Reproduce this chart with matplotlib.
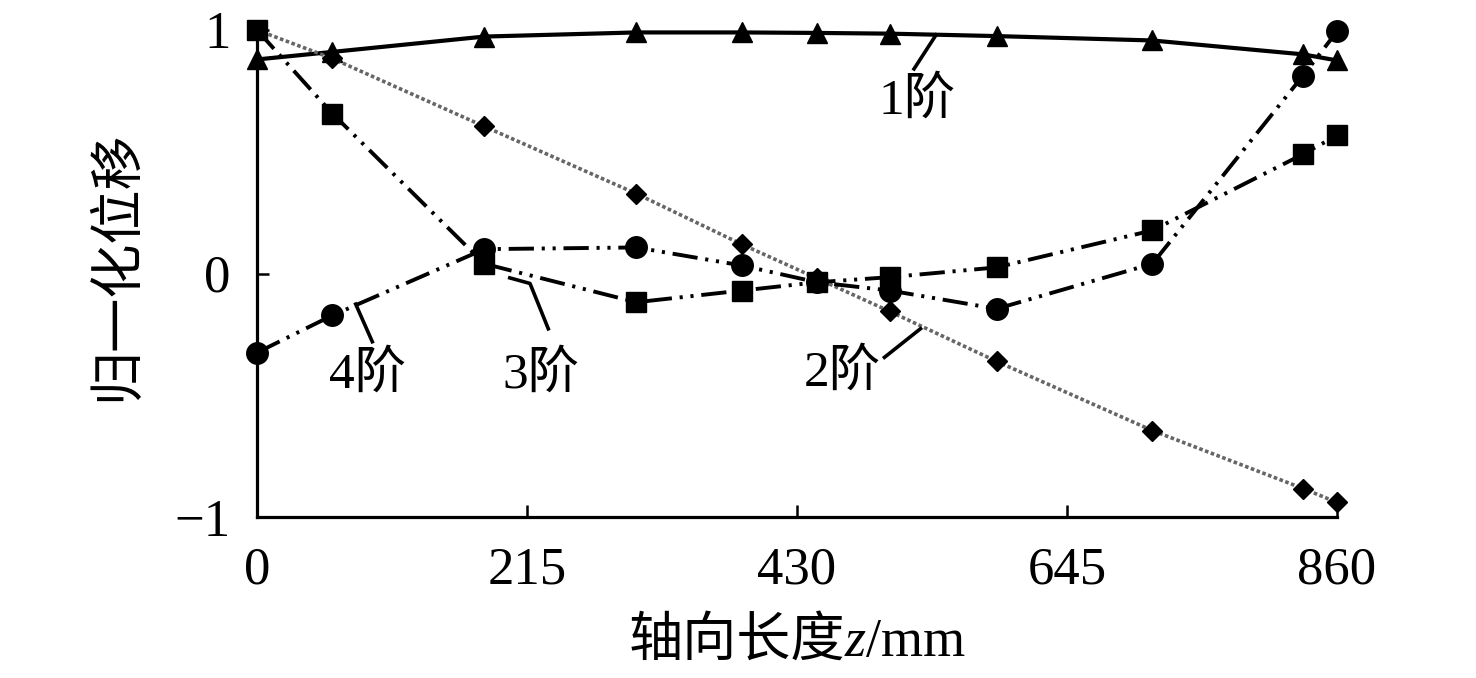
import matplotlib
matplotlib.use("Agg")
import matplotlib.pyplot as plt
from matplotlib.offsetbox import TextArea, HPacker, AnnotationBbox

plt.rcParams['font.family'] = ['Liberation Serif', 'Noto Sans CJK SC']
plt.rcParams['axes.unicode_minus'] = True

# ---- data ----
z = [0, 60, 181, 302, 386, 446, 504, 589, 713, 833, 860]
mode1 = [0.879, 0.91, 0.973, 0.99, 0.99, 0.988, 0.985, 0.975, 0.957, 0.90, 0.875]
mode2 = [1.0, 0.883, 0.604, 0.328, 0.12, -0.02, -0.156, -0.361, -0.645, -0.883, -0.94]
mode3 = [1.0, 0.657, 0.04, -0.118, -0.07, -0.036, -0.015, 0.025, 0.177, 0.49, 0.567]
mode4 = [-0.325, -0.172, 0.10, 0.107, 0.033, -0.036, -0.07, -0.145, 0.04, 0.813, 0.994]
mode_labels = ['1阶', '2阶', '3阶', '4阶']
xticks = [0, 215, 430, 645, 860]
yticks = [-1, 0, 1]
ytick_labels = ['\u22121', '0', '1']

fig = plt.figure(figsize=(14.76, 6.78), dpi=100)
ax = fig.add_axes([257/1476, 1-517/678, 1080/1476, 487/678])

dashdot2 = (0, (6.5, 2.0, 0.8, 2.0, 0.8, 2.0))
ax.plot(z, mode1, color='black', lw=3.0, marker='^', ms=14.5, clip_on=False, zorder=3)
ax.plot(z, mode2, color='0.4', lw=2.6, ls=(0, (1.0, 0.7)), marker='D', ms=10.5,
        mfc='black', mec='black', clip_on=False, zorder=3)
ax.plot(z, mode3, color='black', lw=2.8, ls=dashdot2, marker='s', ms=15,
        clip_on=False, zorder=3)
ax.plot(z, mode4, color='black', lw=2.8, ls=dashdot2, marker='o', ms=15.5,
        clip_on=False, zorder=3)

ax.set_xlim(0, 860)
ax.set_ylim(-1, 1)
ax.set_xticks(xticks)
ax.set_xticklabels([str(t) for t in xticks])
ax.set_yticks(yticks)
ax.set_yticklabels(ytick_labels)
for s in ['top', 'right']:
    ax.spines[s].set_visible(False)
for s in ['left', 'bottom']:
    ax.spines[s].set_linewidth(2.3)
ax.tick_params(axis='both', direction='in', length=8.6, width=1.8, labelsize=38)
ax.tick_params(axis='x', pad=21)
ax.tick_params(axis='y', pad=19)

# leader lines and labels
lab_fs = 37
leaders = [
    ([541.5, 522.4], [0.986, 0.834]),
    ([529.5, 498.5], [-0.222, -0.349]),
    ([199.9, 217.4, 232.5], [-0.016, -0.041, -0.234]),
    ([78.0, 92.4], [-0.119, -0.287]),
]
label_pos = [(526, 0.71), (466, -0.407), (226, -0.415), (88, -0.415)]
for (lx, ly), (tx, ty), lab in zip(leaders, label_pos, mode_labels):
    ax.plot(lx, ly, color='black', lw=2.6, solid_capstyle='butt', zorder=4)
    ax.text(tx, ty, lab, fontsize=lab_fs, ha='center', va='center', zorder=5)

# y label
ax.text(-0.1296, 0.517, '归一化位移', transform=ax.transAxes, rotation=90,
        ha='center', va='center', fontsize=39, family=['Noto Sans CJK SC'])

# x label with italic z
parts = [
    TextArea('轴向长度', textprops=dict(fontsize=39, family=['Noto Sans CJK SC'])),
    TextArea('z', textprops=dict(fontsize=39, family=['Liberation Serif'], style='italic')),
    TextArea('/mm', textprops=dict(fontsize=39, family=['Liberation Serif'])),
]
box = HPacker(children=parts, align='baseline', pad=0, sep=0)
ab = AnnotationBbox(box, (0.5, -0.2526), xycoords='axes fraction', frameon=False,
                    box_alignment=(0.5, 0.5), annotation_clip=False)
ax.add_artist(ab)

fig.savefig('out.png', dpi=100)
